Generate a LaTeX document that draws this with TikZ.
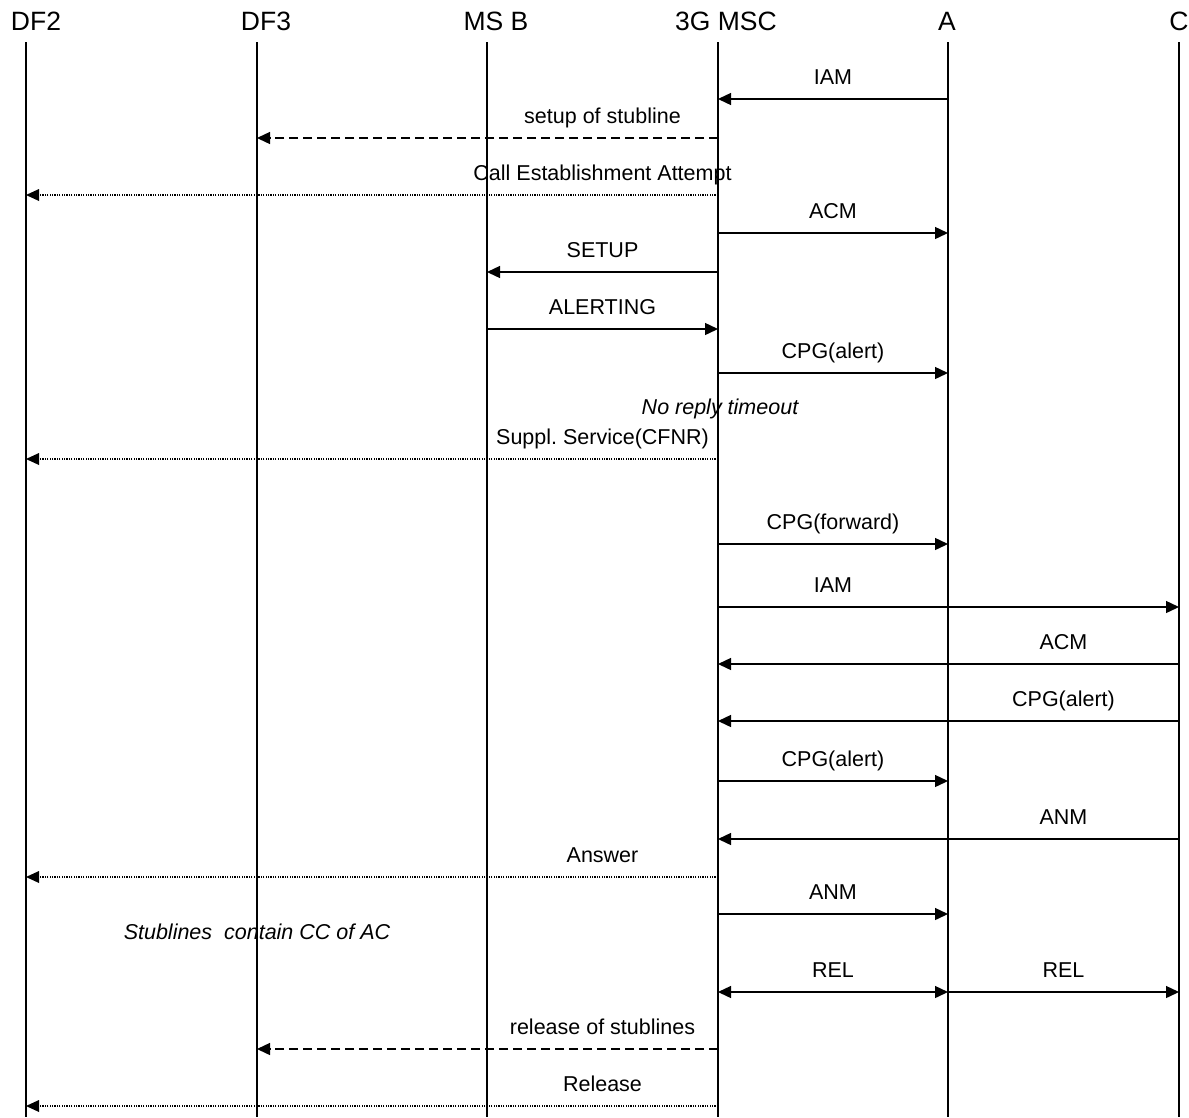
\documentclass[tikz,border=0pt]{standalone}
\usepackage{fontspec}
\setmainfont{Liberation Sans}
\usetikzlibrary{arrows.meta,calc}
\frenchspacing
\begin{document}
\begin{tikzpicture}[x=1pt,y=-1pt,
 life/.style={line width=1.8pt},
 msg/.style={line width=1.4pt,-{Triangle[length=13pt,width=12pt]}},
 dmsg/.style={line width=1.4pt,{Triangle[length=13pt,width=12pt]}-{Triangle[length=13pt,width=12pt]}},
 dsh/.style={msg,dash pattern=on 9pt off 5pt},
 dot/.style={line width=1.1pt,-{Triangle[length=13pt,width=12pt,line width=0pt]},dash pattern=on 1.2pt off 1.2pt},
 lbl/.style={font=\fontsize{21.5}{25}\selectfont,anchor=base,inner sep=0pt},
 hdr/.style={font=\fontsize{26.5}{31}\selectfont,anchor=base,inner sep=0pt},
 note/.style={font=\fontsize{21.5}{25}\selectfont\itshape,anchor=base,inner sep=0pt}]
\useasboundingbox (0,0) rectangle (1189,1117);
% headers
\node[hdr] (hdf2) at (36,30) {DF2};
\node[hdr] (hdf3) at (266,30) {DF3};
\node[hdr] (hmsb) at (496,30) {MS B};
\node[hdr] (hmsc) at (726,30) {3G MSC};
\node[hdr] (ha) at (947,30) {A};
\node[hdr] (hc) at (1179,30) {C};
% lifelines and row coordinates
\foreach \l/\x in {df2/26,df3/257,msb/487,msc/718,a/948,c/1179}{
  \coordinate (\l-top) at (\x,42);
  \coordinate (\l-bot) at (\x,1117);
  \draw[life] (\l-top) -- (\l-bot);
  \foreach \r/\y in {1/99,2/138,3/195,4/233,5/272,6/329,7/373,9/459,10/544,11/607,12/664,13/721,14/781,15/839,16/877,17/914,18/992,19/1049,20/1106}{
    \coordinate (\l-\r) at (\x,\y);
  }
}
% messages
\draw[msg] (a-1) -- (msc-1);
\node[lbl] (l1) at ($(msc-1)!0.5!(a-1)+(0,-15)$) {IAM};
\draw[dsh] (msc-2) -- (df3-2);
\node[lbl] (l2) at ($(msb-2)!0.5!(msc-2)+(0,-15)$) {setup of stubline};
\draw[dot] (msc-3) -- (df2-3);
\node[lbl] (l3) at ($(msb-3)!0.5!(msc-3)+(0,-15)$) {Call Establishment Attempt};
\draw[msg] (msc-4) -- (a-4);
\node[lbl] (l4) at ($(msc-4)!0.5!(a-4)+(0,-15)$) {ACM};
\draw[msg] (msc-5) -- (msb-5);
\node[lbl] (l5) at ($(msb-5)!0.5!(msc-5)+(0,-15)$) {SETUP};
\draw[msg] (msb-6) -- (msc-6);
\node[lbl] (l6) at ($(msb-6)!0.5!(msc-6)+(0,-15)$) {ALERTING};
\draw[msg] (msc-7) -- (a-7);
\node[lbl] (l7) at ($(msc-7)!0.5!(a-7)+(0,-15)$) {CPG(alert)};
\node[note] (n1) at (720,414) {No reply timeout};
\draw[dot] (msc-9) -- (df2-9);
\node[lbl] (l9) at ($(msb-9)!0.5!(msc-9)+(0,-15)$) {Suppl. Service(CFNR)};
\draw[msg] (msc-10) -- (a-10);
\node[lbl] (l10) at ($(msc-10)!0.5!(a-10)+(0,-15)$) {CPG(forward)};
\draw[msg] (msc-11) -- (c-11);
\node[lbl] (l11) at ($(msc-11)!0.5!(a-11)+(0,-15)$) {IAM};
\draw[msg] (c-12) -- (msc-12);
\node[lbl] (l12) at ($(a-12)!0.5!(c-12)+(0,-15)$) {ACM};
\draw[msg] (c-13) -- (msc-13);
\node[lbl] (l13) at ($(a-13)!0.5!(c-13)+(0,-15)$) {CPG(alert)};
\draw[msg] (msc-14) -- (a-14);
\node[lbl] (l14) at ($(msc-14)!0.5!(a-14)+(0,-15)$) {CPG(alert)};
\draw[msg] (c-15) -- (msc-15);
\node[lbl] (l15) at ($(a-15)!0.5!(c-15)+(0,-15)$) {ANM};
\draw[dot] (msc-16) -- (df2-16);
\node[lbl] (l16) at ($(msb-16)!0.5!(msc-16)+(0,-15)$) {Answer};
\draw[msg] (msc-17) -- (a-17);
\node[lbl] (l17) at ($(msc-17)!0.5!(a-17)+(0,-15)$) {ANM};
\node[note] (n2) at (257,939) {Stublines\ \ contain CC of AC};
\draw[dmsg] (msc-18) -- (a-18);
\node[lbl] (l18) at ($(msc-18)!0.5!(a-18)+(0,-15)$) {REL};
\draw[msg] (a-18) -- (c-18);
\node[lbl] (l18b) at ($(a-18)!0.5!(c-18)+(0,-15)$) {REL};
\draw[dsh] (msc-19) -- (df3-19);
\node[lbl] (l19) at ($(msb-19)!0.5!(msc-19)+(0,-15)$) {release of stublines};
\draw[dot] (msc-20) -- (df2-20);
\node[lbl] (l20) at ($(msb-20)!0.5!(msc-20)+(0,-15)$) {Release};
\end{tikzpicture}
\end{document}
